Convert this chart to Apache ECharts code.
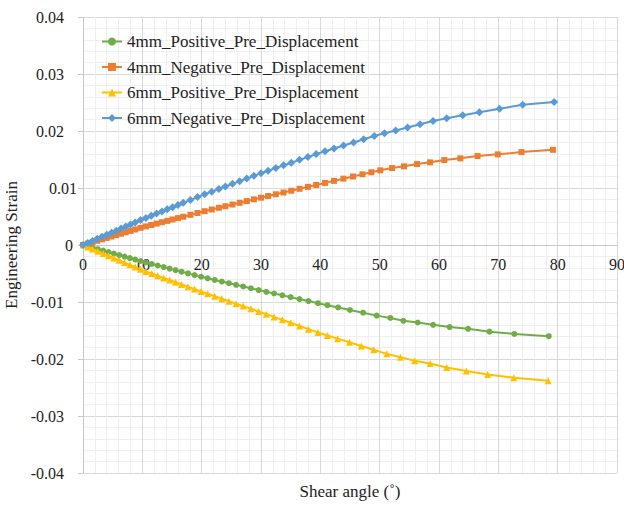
<!DOCTYPE html>
<html>
<head>
<meta charset="utf-8">
<script src="https://cdn.jsdelivr.net/npm/echarts@6/dist/echarts.min.js"></script>
<style>html,body{margin:0;padding:0;background:#fff}#chart{width:624px;height:505px}</style>
</head>
<body>
<div id="chart"></div>
<script>
var seriesNames = ['4mm_Positive_Pre_Displacement','4mm_Negative_Pre_Displacement','6mm_Positive_Pre_Displacement','6mm_Negative_Pre_Displacement'];
var xTickLabels = [0,10,20,30,40,50,60,70,80,90];
var yTickLabels = [-0.04,-0.03,-0.02,-0.01,0,0.01,0.02,0.03,0.04];

var pos4X = [0,0.8,1.6,2.5,3.4,4.3,5.2,6.1,7.0,7.9,8.8,9.7,10.6,11.6,12.6,13.6,14.6,15.6,16.6,17.7,18.8,19.9,21.0,22.2,23.4,24.6,25.8,27.0,28.3,29.6,30.9,32.2,33.6,35.0,36.5,38.0,39.6,41.2,43.0,45.0,47.2,49.5,51.8,54.0,56.4,59.0,61.8,64.9,68.5,72.7,78.5];
var pos4Y = [0,-0.00023,-0.00046,-0.00073,-0.00099,-0.00125,-0.00151,-0.00177,-0.00203,-0.00229,-0.00255,-0.00281,-0.00306,-0.00333,-0.0036,-0.00387,-0.00414,-0.00441,-0.00468,-0.00498,-0.00528,-0.00557,-0.00584,-0.00613,-0.00642,-0.0067,-0.00699,-0.00728,-0.00759,-0.0079,-0.00821,-0.00851,-0.00883,-0.00915,-0.0095,-0.00984,-0.01021,-0.01056,-0.01096,-0.0114,-0.01188,-0.01239,-0.0128,-0.0133,-0.0136,-0.0140,-0.0144,-0.0147,-0.0152,-0.0156,-0.0160];

var neg4X = [0,0.8,1.6,2.4,3.2,4.0,4.8,5.6,6.4,7.2,8.0,8.8,9.7,10.6,11.5,12.4,13.3,14.2,15.1,16.0,16.9,18.1,19.3,20.5,21.7,22.9,24.0,25.2,26.4,27.6,28.8,30.0,31.2,32.5,33.8,35.1,36.5,37.9,39.3,40.8,42.3,43.9,45.5,47.1,48.6,50.1,52.1,54.1,56.3,58.5,60.9,63.6,66.5,69.9,73.9,79.2];
var neg4Y = [0,0.00025,0.0005,0.00074,0.00099,0.00124,0.00149,0.00174,0.00198,0.00223,0.00248,0.00273,0.00301,0.00326,0.00351,0.00375,0.00399,0.00423,0.00448,0.00472,0.00496,0.00529,0.00561,0.00593,0.00623,0.00653,0.0068,0.0071,0.0074,0.0077,0.008,0.0083,0.00859,0.0089,0.00921,0.00952,0.00986,0.0102,0.01053,0.01089,0.01125,0.01164,0.01202,0.0124,0.01276,0.0131,0.0135,0.0138,0.0142,0.0145,0.0149,0.0152,0.0156,0.0159,0.0163,0.0167];

var pos6X = [0,0.8,1.6,2.5,3.4,4.3,5.2,6.1,7.0,7.9,8.8,9.7,10.6,11.6,12.6,13.6,14.6,15.6,16.6,17.7,18.8,19.9,21.0,22.2,23.4,24.6,25.8,27.0,28.3,29.6,30.9,32.2,33.6,35.0,36.5,38.0,39.6,41.2,42.9,44.9,46.9,49.0,51.2,53.5,55.9,58.5,61.3,64.6,68.2,72.6,78.4];
var pos6Y = [0,-0.00035,-0.0007,-0.0011,-0.0015,-0.00189,-0.00229,-0.00268,-0.00308,-0.00348,-0.00387,-0.00427,-0.00463,-0.00501,-0.00539,-0.00577,-0.00615,-0.00653,-0.00691,-0.00733,-0.00774,-0.00816,-0.00856,-0.00899,-0.00942,-0.00986,-0.01029,-0.01072,-0.01119,-0.01166,-0.01213,-0.01261,-0.01313,-0.01365,-0.0142,-0.01476,-0.01535,-0.01588,-0.01643,-0.01707,-0.01771,-0.01838,-0.0191,-0.0197,-0.0203,-0.0208,-0.0215,-0.0221,-0.0227,-0.0233,-0.0238];

var neg6X = [0,0.8,1.6,2.4,3.2,4.0,4.8,5.6,6.4,7.2,8.0,8.8,9.7,10.6,11.5,12.4,13.3,14.2,15.1,16.0,16.9,18.1,19.3,20.5,21.7,22.9,24.0,25.2,26.4,27.6,28.8,30.0,31.2,32.5,33.8,35.1,36.5,37.9,39.3,40.8,42.3,43.9,45.6,47.3,49.1,50.8,52.7,54.7,56.8,59.0,61.3,64.0,66.8,70.2,74.1,79.4];
var neg6Y = [0,0.00036,0.00072,0.00108,0.00144,0.0018,0.00216,0.00252,0.00288,0.00324,0.0036,0.00396,0.00437,0.00475,0.00513,0.00551,0.00589,0.00626,0.00664,0.00702,0.0074,0.0079,0.00841,0.0089,0.00936,0.00983,0.01026,0.01073,0.0112,0.01166,0.01213,0.0126,0.01303,0.0135,0.01397,0.01444,0.01494,0.01544,0.01595,0.01646,0.01694,0.01745,0.01799,0.01854,0.01911,0.01961,0.0201,0.02062,0.02117,0.02174,0.02225,0.02276,0.02329,0.0239,0.0246,0.0251];

function pairs(xs, ys){ return xs.map(function(x,i){ return [x, ys[i]]; }); }

var FONT = 'Liberation Serif';
var chart = echarts.init(document.getElementById('chart'), null, {renderer:'svg'});
var colors = ['#70AD47','#ED7D31','#FFC000','#5B9BD5'];
var symbols = ['circle','rect','triangle','diamond'];
var sizes = [6,6,7,8];
var datas = [pairs(pos4X,pos4Y), pairs(neg4X,neg4Y), pairs(pos6X,pos6Y), pairs(neg6X,neg6Y)];

var GRID_TOP = 17, GRID_BOTTOM = 32, H = 505;
var zeroOffset = -((H - GRID_TOP - GRID_BOTTOM) / 2);

var labelBase = {fontFamily:FONT, fontSize:16, color:'#222'};
chart.setOption({
  animation:false,
  backgroundColor:'#ffffff',
  textStyle:{fontFamily:FONT},
  color: colors,
  grid:{left:83, right:7, top:GRID_TOP, bottom:GRID_BOTTOM, containLabel:false, outerBoundsMode:'none'},
  legend:{
    orient:'vertical', left:96, top:28, itemWidth:20, itemHeight:10, itemGap:8.5,
    textStyle:{fontFamily:FONT, fontSize:17, color:'#222', lineHeight:17},
    data: seriesNames
  },
  xAxis:{
    type:'value', min:xTickLabels[0], max:xTickLabels[xTickLabels.length-1], interval:10,
    position:'bottom', offset: zeroOffset,
    axisLine:{show:true, onZero:false, lineStyle:{color:'#c8c8c8', width:1}},
    axisTick:{show:false},
    axisLabel:{fontFamily:FONT, fontSize:16, color:'#222', margin:11},
    splitLine:{show:true, lineStyle:{color:'#d9d9d9', width:1}},
    minorTick:{show:false, splitNumber:5},
    minorSplitLine:{show:true, lineStyle:{color:'#efefef', width:1}}
  },
  yAxis:{
    type:'value', min:yTickLabels[0], max:yTickLabels[yTickLabels.length-1], interval:0.01,
    axisLine:{show:true, onZero:false, lineStyle:{color:'#c8c8c8', width:1}},
    axisTick:{show:true, inside:false, length:5, lineStyle:{color:'#c8c8c8'}},
    axisLabel:{fontFamily:FONT, fontSize:16, color:'#222', margin:6,
      formatter:function(v){
        var r = Math.round(v*100)/100;
        var s = String(r);
        if (r === 0.01) return '{n|' + s + '}';
        if (r === 0) return '{z|' + s + '}';
        return '{f|' + s + '}';
      },
      rich:{
        n: Object.assign({padding:[0,0,0,0]}, labelBase),
        z: Object.assign({padding:[0,4,0,0]}, labelBase),
        f: Object.assign({padding:[0,13,0,0]}, labelBase)
      }
    },
    splitLine:{show:true, lineStyle:{color:'#d9d9d9', width:1}},
    minorTick:{show:false, splitNumber:5},
    minorSplitLine:{show:true, lineStyle:{color:'#efefef', width:1}},
    name:'Engineering Strain', nameLocation:'middle', nameGap:52,
    nameTextStyle:{fontFamily:FONT, fontSize:17, color:'#222'}
  },
  graphic:[{
    type:'text', x:350, y:491,
    style:{text:'Shear angle (˚)', fontFamily:FONT, fontSize:17, fill:'#222', textAlign:'center', textVerticalAlign:'middle'}
  }],
  series: seriesNames.map(function(n,i){
    return {
      name:n, type:'line', data:datas[i], symbol:symbols[i], symbolSize:sizes[i],
      showAllSymbol:true,
      lineStyle:{width:2, color:colors[i]},
      itemStyle:{color:colors[i]},
      z: 2+i
    };
  })
});
</script>
</body>
</html>
